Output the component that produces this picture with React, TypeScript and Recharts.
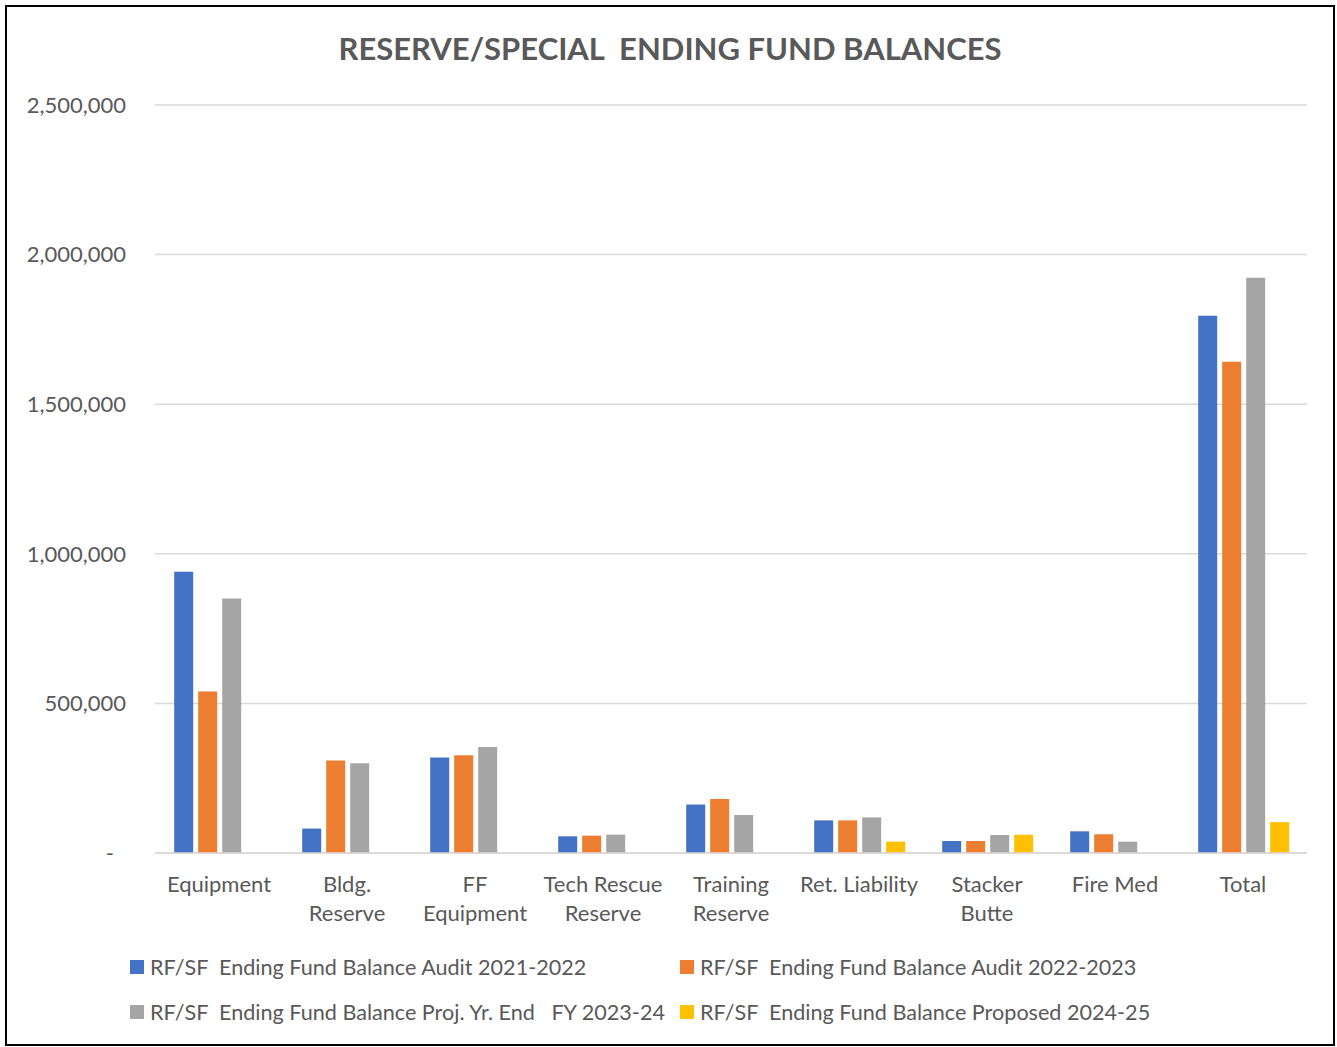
import React from "react";
import { BarChart, Bar, XAxis, YAxis, CartesianGrid, Legend } from "recharts";

const categories = [
  "Equipment",
  "Bldg.\nReserve",
  "FF\nEquipment",
  "Tech Rescue\nReserve",
  "Training\nReserve",
  "Ret. Liability",
  "Stacker\nButte",
  "Fire Med",
  "Total",
];

const audit2122 = [939700, 81600, 319000, 55800, 162000, 109000, 40000, 72500, 1795800];
const audit2223 = [539700, 309000, 327000, 58000, 180600, 109000, 40000, 62500, 1641600];
const proj2324 = [850700, 300000, 354000, 61500, 127000, 119000, 60000, 38000, 1922800];
const proposed2425 = [null, null, null, null, null, 38000, 61000, null, 103300];

const yTicks = [0, 500000, 1000000, 1500000, 2000000, 2500000];

const seriesNames = [
  "RF/SF  Ending Fund Balance Audit 2021-2022",
  "RF/SF  Ending Fund Balance Audit 2022-2023",
  "RF/SF  Ending Fund Balance Proj. Yr. End   FY 2023-24",
  "RF/SF  Ending Fund Balance Proposed 2024-25",
];
const colors = ["#4472C4", "#ED7D31", "#A5A5A5", "#FFC000"];

const data = categories.map((c, i) => ({
  name: c,
  a: audit2122[i],
  b: audit2223[i],
  c: proj2324[i],
  d: proposed2425[i],
}));

const FONT = "Lato, 'Open Sans', sans-serif";
const TEXT = "#595959";

const YTick = (props: any) => {
  const { x, y, payload } = props;
  const v = payload.value as number;
  const label = v === 0 ? "-" : v.toLocaleString("en-US");
  return (
    <text
      x={v === 0 ? x - 12 : x}
      y={y}
      dy="0.35em"
      textAnchor="end"
      fill={TEXT}
      fontSize={22}
      fontFamily={FONT}
    >
      {label}
    </text>
  );
};

const XTick = (props: any) => {
  const { x, y, payload } = props;
  const lines = String(payload.value).split("\n");
  return (
    <text x={x} y={y + 31} textAnchor="middle" fill={TEXT} fontSize={22} fontFamily={FONT}>
      {lines.map((l, i) => (
        <tspan key={i} x={x} dy={i === 0 ? 0 : 29}>
          {l}
        </tspan>
      ))}
    </text>
  );
};

const LegendContent = () => {
  const pos = [
    { left: 123, row: 0 },
    { left: 673, row: 0 },
    { left: 123, row: 1 },
    { left: 673, row: 1 },
  ];
  return (
    <div style={{ position: "relative", width: 1326, height: 90 }}>
      {seriesNames.map((n, i) => (
        <div
          key={i}
          style={{
            position: "absolute",
            left: pos[i].left,
            top: pos[i].row * 45,
            height: 45,
            display: "flex",
            alignItems: "center",
            fontFamily: FONT,
            fontSize: 21.6,
            color: TEXT,
            whiteSpace: "pre",
          }}
        >
          <span
            style={{
              display: "inline-block",
              width: 14,
              height: 14,
              background: colors[i],
              marginRight: 6,
            }}
          />
          <span>{n}</span>
        </div>
      ))}
    </div>
  );
};

export default function App() {
  return (
    <div
      style={{
        position: "absolute",
        left: 5,
        top: 5,
        width: 1330,
        height: 1041,
        border: "2px solid #000",
        boxSizing: "border-box",
        background: "#fff",
      }}
    >
      <div
        style={{
          position: "absolute",
          left: 0,
          top: 22,
          width: 1326,
          textAlign: "center",
          fontFamily: FONT,
          fontWeight: 700,
          fontSize: 31,
          color: TEXT,
          whiteSpace: "pre",
        }}
      >
        RESERVE/SPECIAL  ENDING FUND BALANCES
      </div>
      <BarChart
        width={1326}
        height={1037}
        data={data}
        margin={{ top: 98, right: 26, left: 0, bottom: 0 }}
        barCategoryGap="15%"
        barGap={5}
      >
        <CartesianGrid vertical={false} stroke="#D9D9D9" strokeWidth={1.5} />
        <XAxis
          dataKey="name"
          height={191}
          interval={0}
          tick={<XTick />}
          tickLine={false}
          axisLine={{ stroke: "#D9D9D9", strokeWidth: 1.5 }}
        />
        <YAxis
          width={148}
          domain={[0, 2500000]}
          ticks={yTicks}
          tick={<YTick />}
          tickLine={false}
          axisLine={false}
          tickMargin={23}
        />
        <Legend
          layout="horizontal"
          verticalAlign="middle"
          align="center"
          content={<LegendContent />}
          wrapperStyle={{ top: 937, left: 0, width: 1326 }}
        />
        <Bar dataKey="a" name={seriesNames[0]} fill={colors[0]} isAnimationActive={false} />
        <Bar dataKey="b" name={seriesNames[1]} fill={colors[1]} isAnimationActive={false} />
        <Bar dataKey="c" name={seriesNames[2]} fill={colors[2]} isAnimationActive={false} />
        <Bar dataKey="d" name={seriesNames[3]} fill={colors[3]} isAnimationActive={false} />
      </BarChart>
    </div>
  );
}
